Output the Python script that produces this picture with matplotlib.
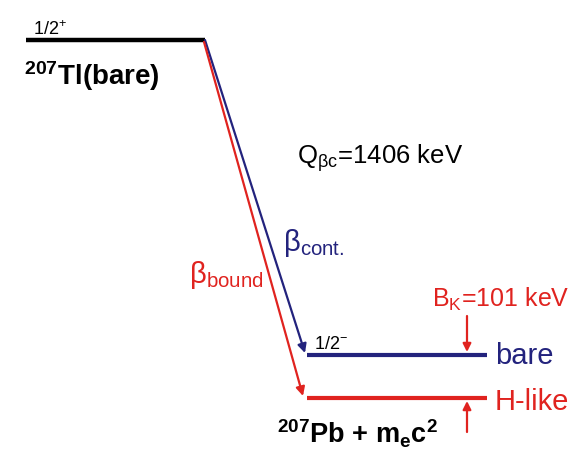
import matplotlib
matplotlib.use("Agg")
import matplotlib.pyplot as plt

plt.rcParams["font.family"] = ["Liberation Sans", "DejaVu Sans"]
plt.rcParams["mathtext.fontset"] = "custom"
plt.rcParams["mathtext.rm"] = "Liberation Sans"
plt.rcParams["mathtext.it"] = "Liberation Sans:italic"
plt.rcParams["mathtext.bf"] = "Liberation Sans:bold"

# niveles (coordenadas del esquema en pixeles)
nivel_tl = 40
nivel_bare = 355
nivel_hlike = 398
x_tl = [26, 205]
x_pb = [307, 487]

azul = "#23237d"
rojo = "#e0231f"

fig = plt.figure(figsize=(5.82, 4.53), dpi=100)
ax = fig.add_axes([0, 0, 1, 1])
ax.set_xlim(0, 582)
ax.set_ylim(453, 0)
ax.axis("off")

# niveles horizontales
ax.plot(x_tl, [nivel_tl, nivel_tl], color="black", lw=3.2, solid_capstyle="butt")
ax.plot(x_pb, [nivel_bare, nivel_bare], color=azul, lw=3.0, solid_capstyle="butt")
ax.plot(x_pb, [nivel_hlike, nivel_hlike], color=rojo, lw=3.0, solid_capstyle="butt")

# transiciones
ax.annotate("", xy=(305, nivel_bare - 2), xytext=(205, nivel_tl),
            arrowprops=dict(arrowstyle="-|>", color=azul, lw=1.6, mutation_scale=13,
                            shrinkA=0, shrinkB=0))
ax.annotate("", xy=(303, nivel_hlike - 2), xytext=(204, nivel_tl + 2),
            arrowprops=dict(arrowstyle="-|>", color=rojo, lw=1.6, mutation_scale=13,
                            shrinkA=0, shrinkB=0))

# flechas B_K
ax.annotate("", xy=(467, nivel_bare - 3), xytext=(467, 316),
            arrowprops=dict(arrowstyle="-|>", color=rojo, lw=1.6, mutation_scale=12,
                            shrinkA=0, shrinkB=0))
ax.annotate("", xy=(467, nivel_hlike + 3), xytext=(467, 432),
            arrowprops=dict(arrowstyle="-|>", color=rojo, lw=1.6, mutation_scale=12,
                            shrinkA=0, shrinkB=0))

# textos
ax.text(33, 35, r"1/2$^{+}$", fontsize=13, va="baseline")
ax.text(24, 85, r"$^{\mathbf{207}}$Tl(bare)", fontsize=20, fontweight="bold", va="baseline")
ax.text(297, 164, r"Q$_{\mathrm{\beta c}}$=1406 keV", fontsize=18.5, va="baseline")
ax.text(283, 251, r"β$_{\mathrm{cont.}}$", fontsize=21, color=azul, va="baseline")
ax.text(189, 283, r"β$_{\mathrm{bound}}$", fontsize=21, color=rojo, va="baseline")
ax.text(432, 307, r"B$_{\mathrm{K}}$=101 keV", fontsize=18, color=rojo, va="baseline")
ax.text(314, 349, r"1/2$^{-}$", fontsize=13, va="baseline")
ax.text(495, 364, "bare", fontsize=21, color=azul, va="baseline")
ax.text(495, 410, "H-like", fontsize=21, color=rojo, va="baseline")
ax.text(277, 443, r"$^{\mathbf{207}}$Pb + m$_{\mathbf{e}}$c$^{\mathbf{2}}$", fontsize=19.5,
        fontweight="bold", va="baseline")

fig.savefig("out.png", dpi=100)
